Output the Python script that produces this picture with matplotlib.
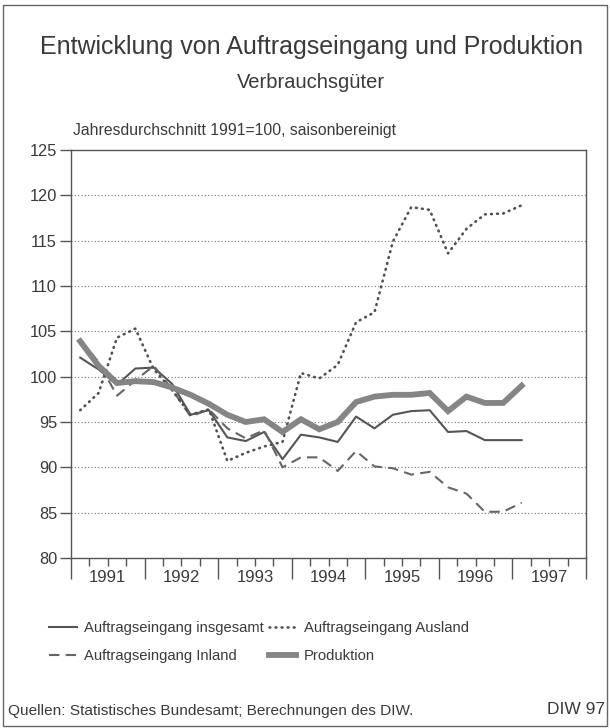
import matplotlib.pyplot as plt
import matplotlib.patches as patches
import numpy as np

plt.rcParams['font.family'] = ['Liberation Sans', 'DejaVu Sans']

# Quartalswerte 1991 Q1 bis 1997 Q1
years = [1991, 1992, 1993, 1994, 1995, 1996, 1997]
n_quarters = 25

insgesamt = [102.1, 100.8, 99.1, 100.9, 101.0, 99.2, 95.8, 96.3, 93.3, 92.9,
             93.9, 90.9, 93.6, 93.3, 92.8, 95.6, 94.3, 95.8, 96.2, 96.3,
             93.9, 94.0, 93.0, 93.0, 93.0]
inland = [104.1, 101.6, 97.9, 99.6, 101.2, 98.6, 95.6, 96.4, 94.3, 93.2,
          94.1, 90.0, 91.1, 91.1, 89.6, 91.8, 90.1, 89.9, 89.2, 89.5,
          87.8, 87.1, 85.1, 85.1, 86.1]
ausland = [96.3, 98.2, 104.3, 105.3, 100.8, 98.5, 95.8, 96.4, 90.7, 91.6,
           92.3, 92.8, 100.4, 99.8, 101.3, 106.0, 107.1, 114.9, 118.7, 118.4,
           113.6, 116.3, 117.9, 118.0, 118.9]
produktion = [103.9, 101.2, 99.3, 99.5, 99.4, 98.8, 98.0, 97.0, 95.8, 95.0,
              95.3, 93.9, 95.3, 94.2, 95.0, 97.2, 97.8, 98.0, 98.0, 98.2,
              96.2, 97.8, 97.1, 97.1, 99.0]

txt = '#3a3a3a'
x = years[0] + (np.arange(n_quarters) + 0.5) / 4

fig = plt.figure(figsize=(6.1, 7.28), dpi=100)
ax = fig.add_axes([71 / 610, 1 - 558 / 728, 515 / 610, 408 / 728])

ax.plot(x, insgesamt, color='#555555', lw=1.5, label='Auftragseingang insgesamt')
ax.plot(x, inland, color='#666666', lw=1.5, ls=(0, (5, 3)), label='Auftragseingang Inland')
ax.plot(x, ausland, color='#505050', lw=1.9, ls=(0, (0.3, 2.0)), dash_capstyle='round',
        label='Auftragseingang Ausland')
ax.plot(x, produktion, color='#858585', lw=4.2, solid_joinstyle='miter', label='Produktion')

ax.set_xlim(years[0], years[-1] + 1)
ax.set_ylim(80, 125)
ax.set_yticks(range(80, 126, 5))
for v in range(85, 125, 5):
    ax.axhline(v, color='#777777', lw=0.8, ls=(0, (1, 2)), zorder=0)

ax.set_xticks(years + [years[-1] + 1])
ax.set_xticks(np.arange(years[0], years[-1] + 1, 0.25), minor=True)
ax.tick_params(axis='x', which='major', length=15, width=1, color='#555555', labelbottom=False)
ax.tick_params(axis='x', which='minor', length=6, width=1, color='#555555')
ax.tick_params(axis='y', length=8, width=1, color='#555555', labelsize=11.8, labelcolor=txt, pad=2)
for s in ax.spines.values():
    s.set_color('#555555')
    s.set_linewidth(1)

sec = ax.secondary_xaxis('bottom')
sec.set_xticks([y + 0.5 for y in years], [str(y) for y in years])
sec.tick_params(length=0, labelsize=12, labelcolor=txt, pad=9)
sec.spines['bottom'].set_visible(False)

fig.text(312 / 610, 1 - 54 / 728, 'Entwicklung von Auftragseingang und Produktion',
         ha='center', va='baseline', fontsize=18, color=txt)
fig.text(311 / 610, 1 - 88 / 728, 'Verbrauchsgüter', ha='center', va='baseline',
         fontsize=14.5, color=txt)
fig.text(73 / 610, 1 - 131 / 728, 'Jahresdurchschnitt 1991=100, saisonbereinigt',
         ha='left', va='center', fontsize=11.3, color=txt)

h, l = ax.get_legend_handles_labels()
fig.legend(h, l, ncol=2, loc='upper left',
           bbox_to_anchor=(49 / 610, 1 - 621 / 728), frameon=False, fontsize=10.6,
           handlelength=1.9, handletextpad=0.5, columnspacing=0.3, labelspacing=0.95,
           borderpad=0, borderaxespad=0, labelcolor=txt)

fig.text(8 / 610, 1 - 711 / 728, 'Quellen: Statistisches Bundesamt; Berechnungen des DIW.',
         ha='left', va='center', fontsize=11.1, color=txt)
fig.text(605 / 610, 1 - 710 / 728, 'DIW 97', ha='right', va='center', fontsize=12.5, color=txt)

fig.patches.append(patches.Rectangle((3 / 610, 1 - 726 / 728), 604 / 610, 721 / 728,
                                     transform=fig.transFigure, fill=False,
                                     edgecolor='#666666', lw=1))

fig.savefig('out.png', dpi=100, facecolor='white')
